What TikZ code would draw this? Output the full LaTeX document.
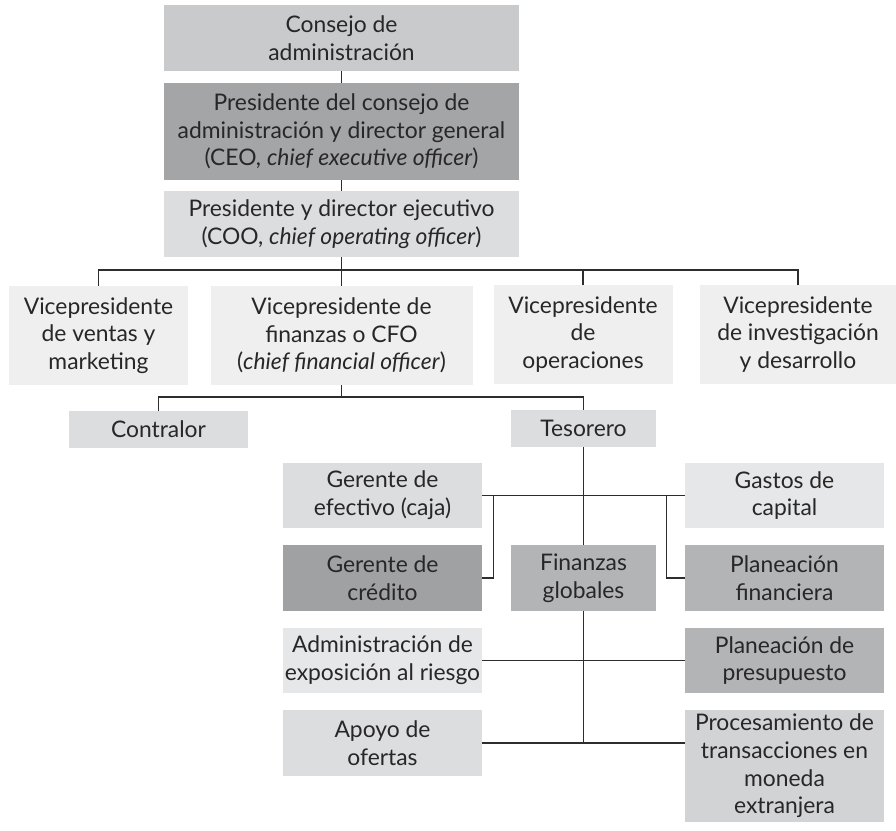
\documentclass[tikz,border=0pt]{standalone}
\usepackage{fontspec}
\setmainfont{Lato}
\usepackage{xcolor}
\definecolor{grA}{RGB}{201,202,204}
\definecolor{grB}{RGB}{164,165,167}
\definecolor{grC}{RGB}{220,221,223}
\definecolor{grD}{RGB}{239,239,240}
\definecolor{grE}{RGB}{230,231,232}
\definecolor{grF}{RGB}{179,180,182}
\definecolor{grG}{RGB}{160,161,163}
\definecolor{grH}{RGB}{210,211,213}
\definecolor{txt}{RGB}{40,38,38}
\definecolor{lin}{RGB}{45,45,45}
\usepackage{tikz}
\usetikzlibrary{positioning,calc}

\begin{document}
\begin{tikzpicture}[x=0.02cm,y=-0.02cm,
  font=\fontsize{13}{15.8}\selectfont,
  box/.style={inner sep=0pt,align=center,text=txt,minimum width=#1*0.02cm},
  box/.default=199,
  hh/.style={minimum height=#1*0.02cm},
  con/.style={draw=lin,line width=0.8pt}]
\useasboundingbox (0,0) rectangle (896,831);
% top chain
\node[box=355,hh=66,fill=grA] (consejo) at (341.5,38)    {Consejo de\\administración};
\node[box=355,hh=97,fill=grB] (ceo)     at (341.5,131.5) {Presidente del consejo de\\administración y director general\\(CEO, \textit{chief executive officer})};
\node[box=355,hh=66,fill=grC] (coo)     at (341.5,224)   {Presidente y director ejecutivo\\(COO, \textit{chief operating officer})};
% vicepresidents
\node[box=179,hh=99,fill=grD] (vpv) at (98.5,335.5)  {Vicepresidente\\de ventas y\\marketing};
\node[box=262,hh=99,fill=grD] (vpf) at (341.5,335.5) {Vicepresidente de\\finanzas o CFO\\(\textit{chief financial officer})};
\node[box=179,hh=99,fill=grD] (vpo) at (583,334.5)   {Vicepresidente\\de\\operaciones};
\node[box=196,hh=99,fill=grD] (vpi) at (798,334.5)   {Vicepresidente\\de investigación\\y desarrollo};
% finance
\node[box=179,hh=37,fill=grC] (contralor) at (158.5,429.5) {Contralor};
\node[box=145,hh=37,fill=grC] (tesorero)  at (583.5,428.5) {Tesorero};
% treasury
\node[box,hh=65,fill=grC]      (efectivo) at (382.5,495.5) {Gerente de\\efectivo (caja)};
\node[box,hh=66,fill=grG]      (credito)  at (382.5,578)   {Gerente de\\crédito};
\node[box=145,hh=66,fill=grF]  (finglob)  at (583.5,578)   {Finanzas\\globales};
\node[box,hh=65,fill=grE]      (gastos)   at (784.5,495.5) {Gastos de\\capital};
\node[box,hh=66,fill=grF]      (planfin)  at (784.5,578)   {Planeación\\financiera};
\node[box,hh=65,fill=grE]      (riesgo)   at (382.5,660.5) {Administración de\\exposición al riesgo};
\node[box,hh=65,fill=grF]      (presup)   at (784.5,660.5) {Planeación de\\presupuesto};
\node[box,hh=66,fill=grC]      (apoyo)    at (382.5,743)   {Apoyo de\\ofertas};
\node[box,hh=112,fill=grH]     (proces)   at (784.5,766)   {Procesamiento de\\transacciones en\\moneda\\extranjera};
% connectors
\coordinate (bus)  at (341.5,270);
\coordinate (fbus) at (341.5,397);
\draw[con] (consejo) -- (ceo);
\draw[con] (ceo) -- (coo);
\draw[con] (coo.south) -- (vpf.north);
\draw[con] (vpv.north) |- (bus) -| (vpi.north);
\draw[con] (vpo.north) -- (vpo.north |- bus);
\draw[con] (vpf.south) -- (fbus);
\draw[con] (contralor.north) |- (fbus) -| (tesorero.north);
\draw[con] (tesorero) -- (finglob);
\draw[con] (efectivo.east) -- (gastos.west);
\draw[con] (credito.east) -- ++(11,0) |- (efectivo.east);
\draw[con] (planfin.west) -- ++(-18,0) |- (gastos.west);
\draw[con] (finglob.south) -- (finglob.south |- apoyo.east);
\draw[con] (riesgo.east) -- (presup.west);
\draw[con] (apoyo.east) -- (apoyo.east -| proces.west);
\end{tikzpicture}
\end{document}
